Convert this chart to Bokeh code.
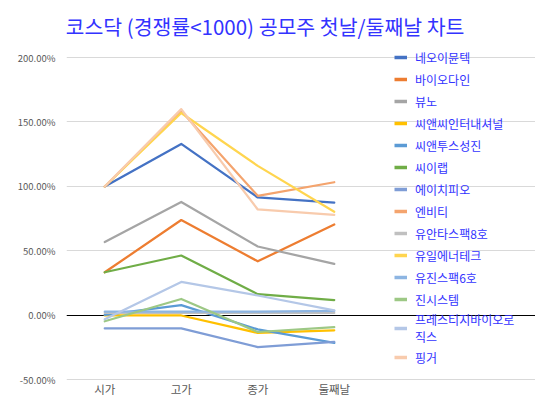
from bokeh.plotting import figure
from bokeh.models import (Range1d, Grid, Legend, LegendItem, Label,
                          PrintfTickFormatter, FixedTicker, ColumnDataSource,
                          CustomJSTickFormatter)
from bokeh.embed import file_html
from bokeh.resources import INLINE

categories = ["시가", "고가", "종가", "둘째날"]
y_ticks = [-50, 0, 50, 100, 150, 200]

neoimmune = [100, 133, 91.5, 87.5]
biodyne = [33.5, 74, 42, 70.5]
vuno = [57, 88, 53.5, 40]
cnc_intl = [0, 0, -13.5, -11.5]
cntus = [0.5, 8, -10.8, -21.3]
xiilab = [33.5, 46.5, 16.5, 12]
hpo = [-10, -10, -24.5, -20.5]
nbt = [100, 158.5, 92.8, 103.3]
yuanta8 = [2, 2, 2, 2]
ilenergy = [100, 157, 116, 80.4]
eugene6 = [3, 3, 3, 3.5]
jinsystem = [-4.5, 12.8, -12.8, -9]
prestige = [-3, 26, 15.5, 4]
finger = [100, 160, 82.2, 78]

names = ["네오이뮨텍", "바이오다인", "뷰노", "씨앤씨인터내셔널", "씨앤투스성진", "씨이랩",
         "에이치피오", "엔비티", "유안타스팩8호", "유일에너테크", "유진스팩6호", "진시스템",
         "프레스티지바이오로직스", "핑거"]
legend_labels = ["네오이뮨텍", "바이오다인", "뷰노", "씨앤씨인터내셔널", "씨앤투스성진", "씨이랩",
                 "에이치피오", "엔비티", "유안타스팩8호", "유일에너테크", "유진스팩6호", "진시스템",
                 "프레스티지바이오로\n직스", "핑거"]
series = [neoimmune, biodyne, vuno, cnc_intl, cntus, xiilab, hpo, nbt,
          yuanta8, ilenergy, eugene6, jinsystem, prestige, finger]
colors = ["#4472C4", "#ED7D31", "#A5A5A5", "#FFC000", "#5B9BD5", "#70AD47",
          "#7F9DD6", "#F4A46E", "#C0C0C0", "#FFD54F", "#8DB5E2", "#9DC885",
          "#B4C7E7", "#F8CBAD"]
title_text = "코스닥 (경쟁률<1000) 공모주 첫날/둘째날 차트"

FONT = "Noto Sans CJK KR"
TEXT_BLUE = "#3333FF"

# layout (pixels)
W, H = 535, 399
LEFT, BOTTOM = 66, 19
PLOT_RIGHT, PLOT_TOP = 372, 57
n_cat = len(categories)
frame_w = W - LEFT
frame_h = H - BOTTOM
y_lo = -50.4
y_hi_tick = max(y_ticks)
px_per_unit = (frame_h - PLOT_TOP) / (y_hi_tick - y_lo)
y_hi = y_hi_tick + PLOT_TOP / px_per_unit
x_hi = n_cat * frame_w / (PLOT_RIGHT - LEFT)

x_pos = [i + 0.5 for i in range(n_cat)]
data = {"x": x_pos}
for n, s in zip(names, series):
    data[n] = s
src = ColumnDataSource(data)

p = figure(width=W, height=H, x_range=Range1d(0, x_hi),
           y_range=Range1d(y_lo, y_hi), output_backend="svg", toolbar_location=None,
           min_border_left=LEFT, min_border_right=0, min_border_top=0,
           min_border_bottom=BOTTOM)
p.outline_line_color = None
p.background_fill_color = "white"
p.border_fill_color = "white"

p.xgrid.grid_line_color = None
p.ygrid.grid_line_color = "#D9D9D9"
p.ygrid.grid_line_width = 1
p.ygrid.bounds = (0, n_cat)
p.ygrid.ticker = FixedTicker(ticks=y_ticks)

p.yaxis.ticker = FixedTicker(ticks=y_ticks)
p.yaxis.formatter = PrintfTickFormatter(format="%.2f%%")
p.yaxis.axis_line_color = None
p.yaxis.major_tick_line_color = None
p.yaxis.minor_tick_line_color = None
p.yaxis.major_tick_out = 0
p.yaxis.major_label_standoff = 11
p.yaxis.major_label_text_font = FONT
p.yaxis.major_label_text_font_size = "9.5px"
p.yaxis.major_label_text_color = "#595959"

p.xaxis.ticker = FixedTicker(ticks=x_pos)
p.xaxis.formatter = CustomJSTickFormatter(args=dict(cats=categories),
                                          code="return cats[Math.floor(tick)] || '';")
p.xaxis.axis_line_color = None
p.xaxis.major_tick_line_color = None
p.xaxis.minor_tick_line_color = None
p.xaxis.major_tick_out = 0
p.xaxis.major_label_standoff = 0
p.xaxis.major_label_text_font = FONT
p.xaxis.major_label_text_font_size = "11.5px"
p.xaxis.major_label_text_color = "#595959"

p.add_layout(Grid(dimension=1, ticker=FixedTicker(ticks=[0]), bounds=(0, n_cat),
                  grid_line_color="black", grid_line_width=1))

items = []
for n, lab, c in zip(names, legend_labels, colors):
    p.line(x="x", y=n, source=src, line_color=c, line_width=2.25,
           line_join="round", line_cap="round")
    sw = p.line(x="x", y=n, source=src, line_color=c, line_width=3.5, visible=False)
    items.append(LegendItem(label=lab, renderers=[sw]))

legend = Legend(items=items, location=(394 - LEFT, 13), border_line_color=None,
                background_fill_alpha=0, padding=0, margin=0, spacing=2,
                label_text_font=FONT, label_text_font_size="12px",
                label_text_color=TEXT_BLUE, glyph_width=13, glyph_height=20,
                label_height=20, label_standoff=8, inactive_fill_alpha=0)
p.add_layout(legend, "center")

p.add_layout(Label(x=264.5 - LEFT, y=frame_h - 25, x_units="screen", y_units="screen",
                   text=title_text, text_font=FONT, text_font_size="20.5px",
                   text_color=TEXT_BLUE, text_align="center", text_baseline="middle"))

open("out.html", "w").write(file_html(p, INLINE))
